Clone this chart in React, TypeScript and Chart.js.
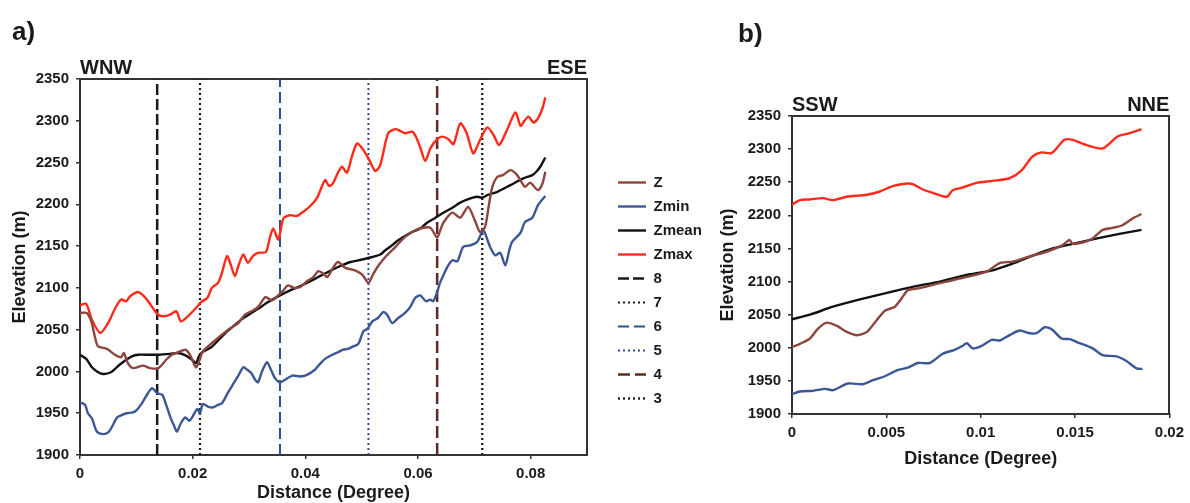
import React, { useEffect, useRef } from 'react';
import { Chart, registerables } from 'chart.js';

Chart.register(...registerables);

const FONT = "'Liberation Sans', Arial, Helvetica, sans-serif";
const INK = '#1a1a1a';
const FRAME = '#333333';

// ---------------- Panel a) data ----------------
const aXTicks = [0, 0.02, 0.04, 0.06, 0.08];
const aXRange = [0, 0.09];
const aYTicks = [1900, 1950, 2000, 2050, 2100, 2150, 2200, 2250, 2300, 2350];
const aDirections = ['WNW', 'ESE'];

const aZX = [0, 0.0012, 0.002, 0.0027, 0.0032, 0.0048, 0.0062, 0.0073, 0.0078, 0.0085, 0.0094, 0.0112, 0.0124, 0.0139, 0.0153, 0.0163, 0.0174, 0.0187, 0.0195, 0.0206, 0.0213, 0.0218, 0.0231, 0.0245, 0.0263, 0.0281, 0.0293, 0.0304, 0.0316, 0.0329, 0.0341, 0.0352, 0.0361, 0.0369, 0.038, 0.0391, 0.0403, 0.0414, 0.0423, 0.043, 0.0439, 0.0449, 0.0458, 0.0471, 0.0488, 0.0501, 0.0512, 0.052, 0.0528, 0.0542, 0.056, 0.0577, 0.0595, 0.0609, 0.0622, 0.0629, 0.0634, 0.0639, 0.0645, 0.0661, 0.0675, 0.0689, 0.0702, 0.071, 0.0719, 0.0726, 0.0732, 0.0741, 0.0751, 0.0764, 0.0776, 0.079, 0.0799, 0.0813, 0.0821, 0.0826];
const aZY = [2070, 2070, 2060, 2040, 2030, 2027, 2020, 2017, 2022, 2010, 2004, 2007, 2004, 2004, 2014, 2020, 2023, 2026, 2020, 2005, 2015, 2024, 2032, 2040, 2050, 2058, 2068, 2072, 2077, 2089, 2085, 2091, 2097, 2103, 2100, 2101, 2108, 2113, 2120, 2118, 2113, 2124, 2131, 2124, 2121, 2116, 2106, 2116, 2125, 2137, 2149, 2161, 2169, 2172, 2172, 2165, 2160, 2168, 2178, 2190, 2184, 2197, 2179, 2167, 2173, 2200, 2221, 2233, 2235, 2241, 2235, 2221, 2226, 2217, 2225, 2239];

const aZminX = [0, 0.0009, 0.0014, 0.0021, 0.003, 0.0041, 0.005, 0.0057, 0.0066, 0.0075, 0.0083, 0.0094, 0.0101, 0.011, 0.0117, 0.0128, 0.0137, 0.0146, 0.0153, 0.016, 0.0167, 0.0172, 0.0179, 0.0187, 0.0194, 0.0199, 0.0208, 0.0213, 0.0218, 0.0227, 0.0236, 0.0245, 0.0252, 0.0263, 0.0272, 0.0281, 0.029, 0.0297, 0.0304, 0.0311, 0.0316, 0.0323, 0.0332, 0.0339, 0.0346, 0.0355, 0.0364, 0.0377, 0.0391, 0.0403, 0.0417, 0.0426, 0.0435, 0.0448, 0.0458, 0.0467, 0.0476, 0.0485, 0.0494, 0.0503, 0.051, 0.0519, 0.0529, 0.0538, 0.0545, 0.0554, 0.0565, 0.0577, 0.0586, 0.0595, 0.0604, 0.0614, 0.0622, 0.0627, 0.0634, 0.0639, 0.0647, 0.0652, 0.0661, 0.067, 0.068, 0.0693, 0.0705, 0.0716, 0.0723, 0.0728, 0.0737, 0.0746, 0.0755, 0.0762, 0.0767, 0.0782, 0.079, 0.0803, 0.0813, 0.0826];
const aZminY = [1963, 1960, 1950, 1944, 1928, 1925, 1927, 1934, 1945, 1948, 1950, 1951, 1954, 1962, 1970, 1980, 1974, 1972, 1960, 1946, 1935, 1928, 1938, 1945, 1941, 1945, 1955, 1950, 1961, 1958, 1957, 1960, 1962, 1975, 1985, 1995, 2005, 2002, 1998, 1990, 1987, 2000, 2011, 2002, 1992, 1987, 1990, 1995, 1994, 1996, 2002, 2009, 2015, 2020, 2023, 2026, 2027, 2030, 2033, 2048, 2051, 2060, 2064, 2071, 2068, 2058, 2064, 2070, 2077, 2088, 2091, 2084, 2086, 2084, 2095, 2106, 2118, 2125, 2133, 2132, 2149, 2151, 2155, 2169, 2158, 2149, 2139, 2142, 2127, 2145, 2155, 2166, 2179, 2184, 2199, 2210];

const aZmeanX = [0, 0.0011, 0.002, 0.003, 0.0041, 0.0055, 0.0067, 0.008, 0.0092, 0.0103, 0.0124, 0.0139, 0.016, 0.0174, 0.0188, 0.0199, 0.0206, 0.0211, 0.0217, 0.0233, 0.0245, 0.0258, 0.0272, 0.0286, 0.0304, 0.0316, 0.0334, 0.0355, 0.0373, 0.0387, 0.0409, 0.0423, 0.044, 0.0458, 0.048, 0.0494, 0.0519, 0.0533, 0.0542, 0.0554, 0.0565, 0.0577, 0.059, 0.0604, 0.0616, 0.0631, 0.0645, 0.0661, 0.0675, 0.0693, 0.0705, 0.0714, 0.0723, 0.0741, 0.0764, 0.0787, 0.0803, 0.081, 0.0817, 0.0826];
const aZmeanY = [2020, 2015, 2006, 2000, 1997, 1999, 2006, 2013, 2018, 2020, 2020, 2020, 2021, 2022, 2019, 2014, 2010, 2018, 2023, 2029, 2037, 2046, 2054, 2062, 2070, 2075, 2083, 2091, 2097, 2101, 2108, 2113, 2119, 2125, 2131, 2133, 2137, 2140, 2145, 2151, 2157, 2162, 2167, 2171, 2178, 2184, 2190, 2196, 2202, 2207, 2209, 2208, 2211, 2215, 2223, 2231, 2235, 2239, 2245, 2256];

const aZmaxX = [0, 0.0011, 0.0021, 0.0036, 0.005, 0.0062, 0.0073, 0.0082, 0.0089, 0.0103, 0.0112, 0.0121, 0.0137, 0.0147, 0.016, 0.0171, 0.0179, 0.019, 0.0206, 0.0215, 0.0226, 0.0234, 0.0245, 0.0252, 0.0261, 0.0268, 0.0275, 0.0282, 0.029, 0.0298, 0.0307, 0.0316, 0.033, 0.0337, 0.0343, 0.0352, 0.0361, 0.0373, 0.0385, 0.0396, 0.0409, 0.0421, 0.0435, 0.0442, 0.0449, 0.0458, 0.0465, 0.0474, 0.0483, 0.0492, 0.0501, 0.0512, 0.0524, 0.0533, 0.0547, 0.056, 0.0568, 0.0577, 0.059, 0.0597, 0.0604, 0.0613, 0.0622, 0.0634, 0.0643, 0.0654, 0.0663, 0.0675, 0.0686, 0.0698, 0.071, 0.0723, 0.0734, 0.0744, 0.0758, 0.0773, 0.0782, 0.0789, 0.0796, 0.0805, 0.0813, 0.0821, 0.0826];
const aZmaxY = [2079, 2081, 2062, 2046, 2058, 2075, 2086, 2084, 2090, 2095, 2091, 2084, 2069, 2066, 2068, 2072, 2060, 2065, 2076, 2083, 2088, 2100, 2106, 2118, 2138, 2127, 2114, 2128, 2140, 2130, 2138, 2142, 2143, 2160, 2171, 2158, 2183, 2187, 2186, 2191, 2198, 2208, 2229, 2222, 2225, 2238, 2245, 2238, 2258, 2273, 2267, 2255, 2240, 2247, 2285, 2290, 2288, 2285, 2287, 2280, 2268, 2252, 2267, 2278, 2281, 2278, 2272, 2297, 2286, 2261, 2277, 2292, 2283, 2271, 2289, 2310, 2294, 2300, 2305, 2298, 2303, 2315, 2328];

// cross-profile positions (vertical reference lines)
const aMarkerLabels = ['8', '7', '6', '5', '4', '3'];
const aMarkerX = [0.0137, 0.0213, 0.0355, 0.0512, 0.0634, 0.0714];

// ---------------- Panel b) data ----------------
const bXTicks = [0, 0.005, 0.01, 0.015, 0.02];
const bXRange = [0, 0.02];
const bYTicks = [1900, 1950, 2000, 2050, 2100, 2150, 2200, 2250, 2300, 2350];
const bDirections = ['SSW', 'NNE'];

const bZX = [0, 0.00042, 0.00095, 0.00138, 0.00185, 0.00238, 0.00291, 0.00344, 0.00397, 0.0045, 0.00492, 0.00545, 0.00587, 0.00614, 0.00677, 0.00746, 0.0082, 0.00926, 0.01032, 0.01101, 0.01169, 0.01259, 0.01349, 0.01434, 0.01471, 0.01487, 0.0154, 0.01593, 0.01646, 0.01698, 0.01751, 0.01804, 0.01852];
const bZY = [2001, 2006, 2014, 2029, 2038, 2033, 2024, 2019, 2024, 2042, 2056, 2062, 2077, 2087, 2090, 2095, 2100, 2107, 2115, 2128, 2130, 2138, 2145, 2155, 2163, 2157, 2159, 2165, 2178, 2181, 2185, 2195, 2202];

const bZminX = [0, 0.00042, 0.00111, 0.00175, 0.00217, 0.00296, 0.00376, 0.00429, 0.00492, 0.00556, 0.00614, 0.00667, 0.0073, 0.00799, 0.00862, 0.00905, 0.00926, 0.00958, 0.01005, 0.01058, 0.01101, 0.01153, 0.01206, 0.01259, 0.01296, 0.01339, 0.01376, 0.01429, 0.01471, 0.01524, 0.01593, 0.01646, 0.0172, 0.01772, 0.01825, 0.01857];
const bZminY = [1930, 1934, 1935, 1938, 1936, 1946, 1945, 1951, 1957, 1966, 1970, 1977, 1977, 1991, 1997, 2003, 2007, 1999, 2003, 2012, 2011, 2019, 2026, 2022, 2022, 2031, 2028, 2014, 2013, 2007, 1999, 1989, 1987, 1980, 1969, 1968];

const bZmeanX = [0, 0.00095, 0.00217, 0.0036, 0.00503, 0.0064, 0.00783, 0.00926, 0.01063, 0.01169, 0.01275, 0.01381, 0.01487, 0.0163, 0.01735, 0.01852];
const bZmeanY = [2043, 2050, 2062, 2073, 2083, 2092, 2100, 2110, 2117, 2127, 2139, 2150, 2157, 2166, 2172, 2178];

const bZmaxX = [0, 0.00042, 0.00095, 0.00164, 0.00217, 0.00291, 0.00397, 0.00466, 0.00534, 0.00608, 0.0064, 0.00693, 0.00746, 0.0082, 0.00852, 0.00905, 0.00979, 0.01063, 0.01153, 0.01217, 0.01275, 0.01323, 0.01376, 0.01444, 0.01487, 0.01561, 0.01646, 0.01725, 0.01788, 0.01852];
const bZmaxY = [2216, 2223, 2224, 2226, 2223, 2228, 2231, 2236, 2244, 2248, 2247, 2239, 2234, 2228, 2238, 2242, 2249, 2252, 2256, 2268, 2289, 2295, 2294, 2314, 2314, 2306, 2301, 2319, 2324, 2330];

// ---------------- styles ----------------
const seriesNames = ['Z', 'Zmin', 'Zmean', 'Zmax'];
const seriesColors = ['#8c4640', '#3b5795', '#111111', '#ff2a1a'];
const markerColors = ['#1a1a1a', '#1a1a1a', '#2f4f8f', '#2d4b96', '#5a2c25', '#2e2220'];
const markerDashes = [[11, 4], [2, 3], [11, 5], [2, 3], [12, 5], [2, 3]];
const markerWidths = [2.5, 2.2, 2, 2, 2.5, 2.4];

const pts = (xs: number[], ys: number[]) => xs.map((x, i) => ({ x, y: ys[i] }));

function seriesDatasets(groups: [number[], number[]][]) {
  return groups.map(([xs, ys], i) => ({
    label: seriesNames[i],
    data: pts(xs, ys),
    borderColor: seriesColors[i],
    backgroundColor: seriesColors[i],
    borderWidth: 2.4,
    borderDash: [] as number[],
    pointRadius: 0,
    tension: 0.25,
    fill: false,
  }));
}

function markerDatasets(yLow: number, yHigh: number) {
  return aMarkerX.map((x, i) => ({
    label: aMarkerLabels[i],
    data: [{ x, y: yLow }, { x, y: yHigh }],
    borderColor: markerColors[i],
    backgroundColor: markerColors[i],
    borderWidth: markerWidths[i],
    borderDash: markerDashes[i],
    pointRadius: 0,
    tension: 0,
    fill: false,
  }));
}

const setTicks = (values: number[]) => (scale: any) => {
  scale.ticks = values.map((v) => ({ value: v }));
};

const fmt = (v: any) => String(+Number(v).toFixed(4));

interface PanelGeom {
  padLeft: number;
  padRight: number;
  padBottom: number;
  yWidth: number;
  xHeight: number;
  topAxisHeight: number;
  titlePadTop: number;
  yTitlePad: number;
  xTitlePad: number;
  xTickPad: number;
}

function panelOptions(
  label: string,
  xTicks: number[],
  xRange: number[],
  yTicks: number[],
  directions: string[],
  g: PanelGeom,
  legend: any
) {
  const tickFont = { family: FONT, size: 15, weight: 'bold' as const };
  const titleFont = { family: FONT, size: 18, weight: 'bold' as const, lineHeight: 1 };
  return {
    responsive: false,
    animation: false as const,
    devicePixelRatio: 1,
    layout: { padding: { left: g.padLeft, right: g.padRight, top: 0, bottom: g.padBottom } },
    plugins: {
      title: {
        display: true,
        text: label,
        align: 'start' as const,
        color: INK,
        font: { family: FONT, size: 26, weight: 'bold' as const, lineHeight: 1 },
        padding: { top: g.titlePadTop, bottom: 0 },
      },
      legend,
      tooltip: { enabled: false },
    },
    scales: {
      x: {
        type: 'linear' as const,
        position: 'bottom' as const,
        min: xRange[0],
        max: xRange[1],
        afterBuildTicks: setTicks(xTicks),
        afterFit: (s: any) => { s.height = g.xHeight; },
        ticks: { color: INK, font: tickFont, padding: g.xTickPad, maxRotation: 0, autoSkip: false, callback: fmt },
        grid: { display: true, drawOnChartArea: false, drawTicks: true, tickLength: 4, color: FRAME, lineWidth: 1.5 },
        border: { display: true, color: FRAME, width: 2 },
        title: { display: true, text: 'Distance (Degree)', color: INK, font: titleFont, padding: { top: 0, bottom: g.xTitlePad } },
      },
      y: {
        type: 'linear' as const,
        position: 'left' as const,
        min: yTicks[0],
        max: yTicks[yTicks.length - 1],
        afterBuildTicks: setTicks(yTicks),
        afterFit: (s: any) => { s.width = g.yWidth; },
        ticks: { color: INK, font: tickFont, padding: 7, callback: (v: any) => String(v) },
        grid: { display: true, drawOnChartArea: false, drawTicks: true, tickLength: 4, color: FRAME, lineWidth: 1.5 },
        border: { display: true, color: FRAME, width: 2 },
        title: { display: true, text: 'Elevation (m)', color: INK, font: titleFont, padding: { top: g.yTitlePad, bottom: 0 } },
      },
      x2: {
        type: 'linear' as const,
        position: 'top' as const,
        min: xRange[0],
        max: xRange[1],
        afterBuildTicks: (s: any) => { s.ticks = [{ value: s.min }, { value: s.max }]; },
        afterFit: (s: any) => { s.height = g.topAxisHeight; },
        ticks: {
          color: INK,
          font: { family: FONT, size: 20, weight: 'bold' as const, lineHeight: 1 },
          padding: 1,
          align: 'inner' as const,
          maxRotation: 0,
          autoSkip: false,
          callback: (_v: any, i: number) => directions[i],
        },
        grid: { display: false, drawTicks: false },
        border: { display: true, color: FRAME, width: 2 },
      },
      y2: {
        type: 'linear' as const,
        position: 'right' as const,
        min: yTicks[0],
        max: yTicks[yTicks.length - 1],
        afterFit: (s: any) => { s.width = 0; },
        ticks: { display: false },
        grid: { display: false, drawTicks: false },
        border: { display: true, color: FRAME, width: 2 },
      },
    },
  };
}

// moves the Chart.js legend box of panel a) to its spot between the panels
const legendPlacer = {
  id: 'legendPlacer',
  afterLayout(chart: any) {
    const lg = chart.legend;
    if (!lg) return;
    lg.left = 609;
    lg.right = 720;
    lg.top = 166;
    lg.bottom = 470;
    lg.width = lg.right - lg.left;
    lg.height = lg.bottom - lg.top;
  },
};

function configA(): any {
  const datasets = [
    ...seriesDatasets([[aZX, aZY], [aZminX, aZminY], [aZmeanX, aZmeanY], [aZmaxX, aZmaxY]]),
    ...markerDatasets(aYTicks[0], aYTicks[aYTicks.length - 1]),
  ];
  const legend = {
    display: true,
    position: 'chartArea',
    align: 'start',
    labels: {
      color: INK,
      font: { family: FONT, size: 15, weight: 'bold' },
      usePointStyle: true,
      pointStyle: 'line',
      pointStyleWidth: 28,
      padding: 9,
      generateLabels: (chart: any) => {
        const items = Chart.defaults.plugins.legend.labels.generateLabels(chart);
        items.forEach((it: any) => {
          const ds: any = chart.data.datasets[it.datasetIndex];
          it.lineDash = ds.borderDash || [];
          it.lineWidth = ds.borderWidth;
          it.strokeStyle = ds.borderColor;
          it.fillStyle = ds.borderColor;
          it.pointStyle = 'line';
          it.fontColor = INK;
        });
        return items;
      },
    },
  };
  return {
    type: 'line',
    data: { datasets },
    options: panelOptions('a)', aXTicks, aXRange, aYTicks, aDirections, {
      padLeft: 12,
      padRight: 133,
      padBottom: 0,
      yWidth: 68,
      xHeight: 48,
      topAxisHeight: 33,
      titlePadTop: 20,
      yTitlePad: -1,
      xTitlePad: 1,
      xTickPad: 6,
    }, legend),
    plugins: [legendPlacer],
  };
}

function configB(): any {
  const datasets = seriesDatasets([[bZX, bZY], [bZminX, bZminY], [bZmeanX, bZmeanY], [bZmaxX, bZmaxY]]);
  return {
    type: 'line',
    data: { datasets },
    options: panelOptions('b)', bXTicks, bXRange, bYTicks, bDirections, {
      padLeft: 38,
      padRight: 20,
      padBottom: 33,
      yWidth: 54,
      xHeight: 56,
      topAxisHeight: 68,
      titlePadTop: 22,
      yTitlePad: -19,
      xTitlePad: 2,
      xTickPad: 6,
    }, { display: false }),
  };
}

export default function App() {
  const refA = useRef<HTMLCanvasElement>(null);
  const refB = useRef<HTMLCanvasElement>(null);
  useEffect(() => {
    const a = new Chart(refA.current as HTMLCanvasElement, configA());
    const b = new Chart(refB.current as HTMLCanvasElement, configB());
    return () => {
      a.destroy();
      b.destroy();
    };
  }, []);
  return (
    <div style={{ position: 'fixed', left: 0, top: 0, width: 1190, height: 503, background: '#ffffff', overflow: 'hidden' }}>
      <canvas ref={refA} width={720} height={503} style={{ position: 'absolute', left: 0, top: 0, width: 720, height: 503 }} />
      <canvas ref={refB} width={490} height={503} style={{ position: 'absolute', left: 700, top: 0, width: 490, height: 503 }} />
    </div>
  );
}
